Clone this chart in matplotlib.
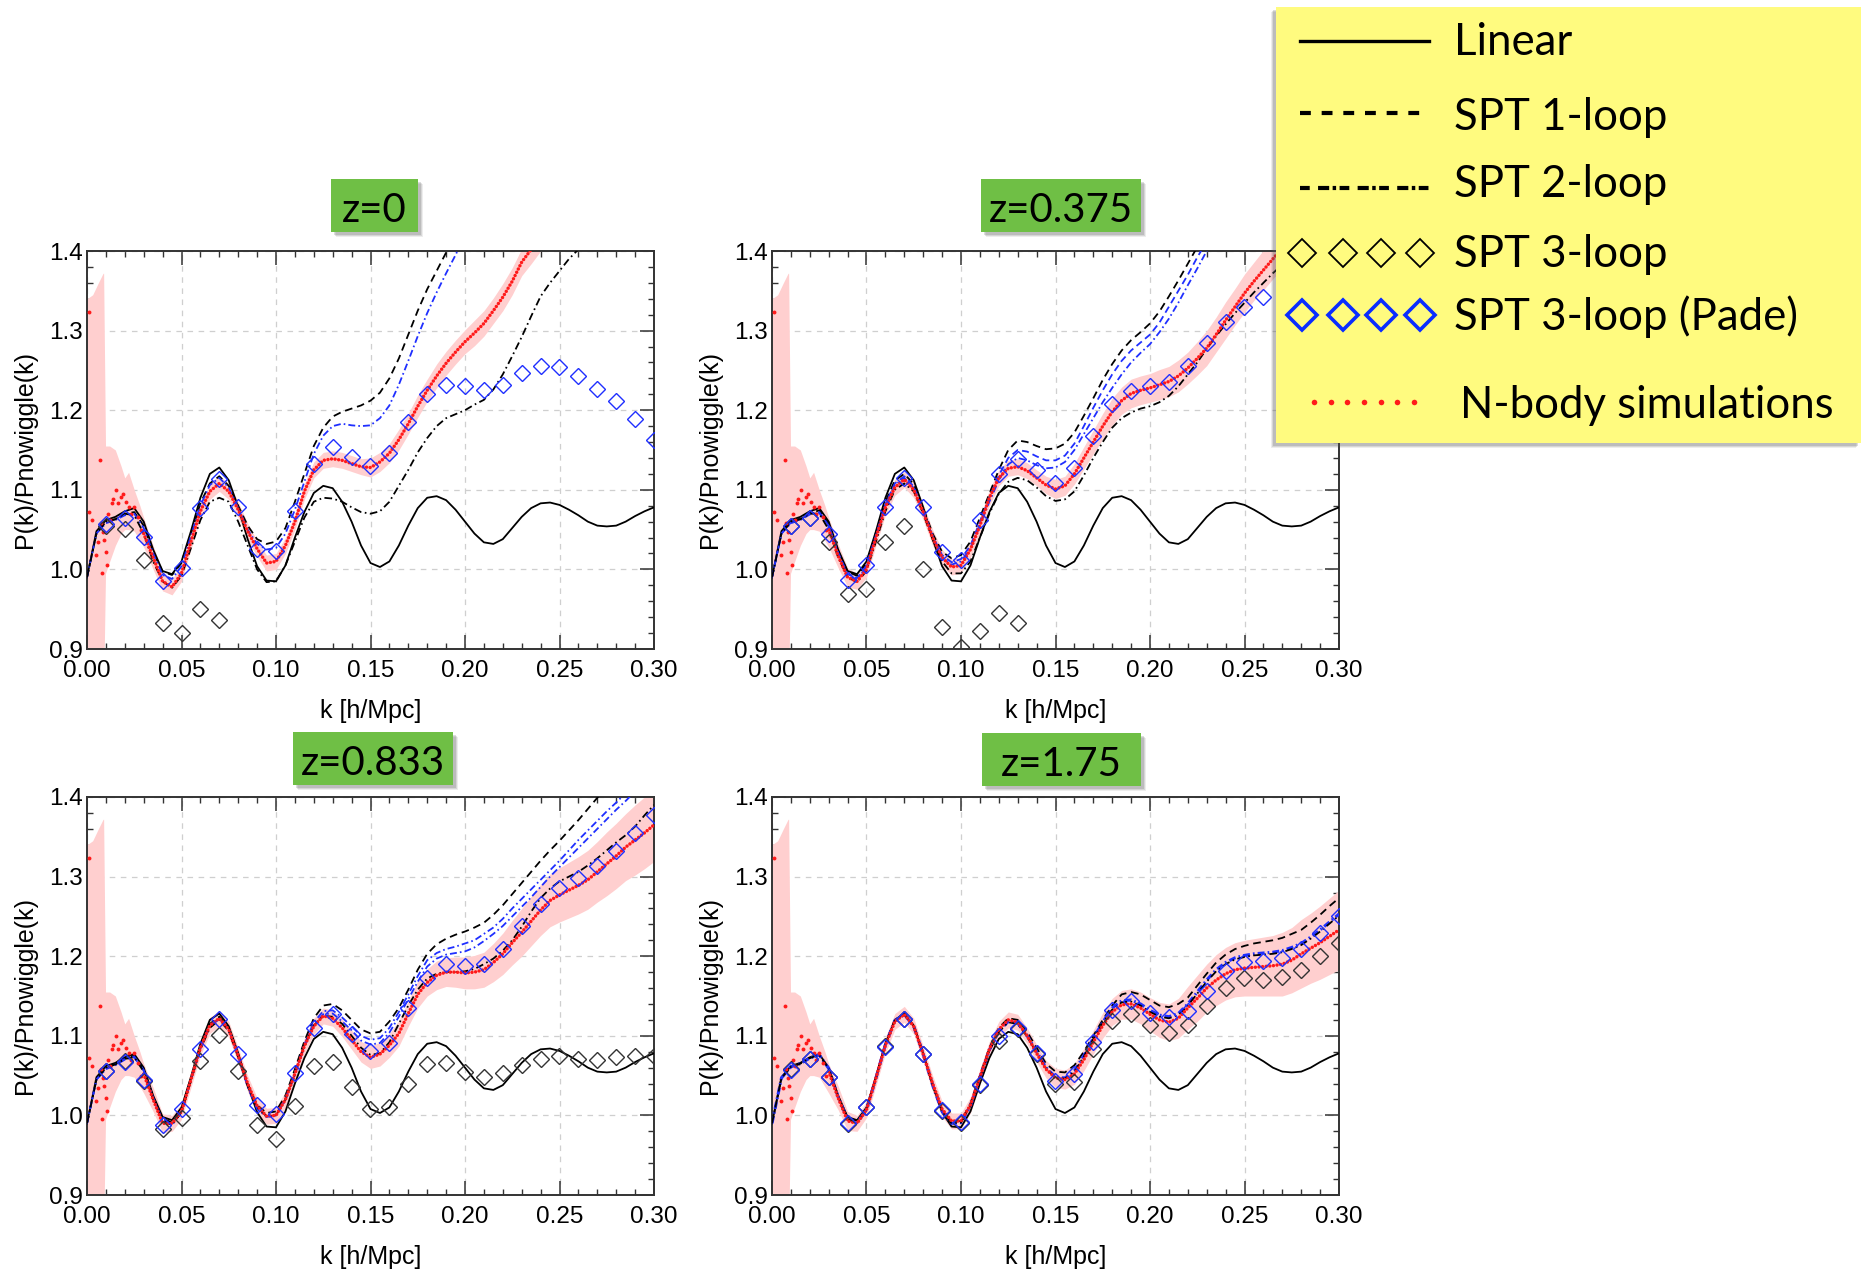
import numpy as np
import matplotlib
matplotlib.use('Agg')
import matplotlib.pyplot as plt
from matplotlib.patches import Rectangle
from matplotlib.ticker import MultipleLocator, FormatStrFormatter

plt.rcParams['font.family'] = ['Liberation Sans', 'DejaVu Sans']
plt.rcParams['lines.scale_dashes'] = False

nan = np.nan

# k grid of the curves (h/Mpc) and of the diamonds
k = np.round(np.arange(0, 0.3001, 0.005), 3)
k3 = np.round(np.arange(0.01, 0.3001, 0.01), 2)

# linear theory, same in every panel
linear = [0.990, 1.048, 1.062, 1.066, 1.073, 1.077, 1.060, 1.025, 0.998, 0.994,
          1.010, 1.048, 1.090, 1.120, 1.128, 1.112, 1.078, 1.038, 1.004, 0.986,
          0.985, 1.005, 1.040, 1.072, 1.096, 1.105, 1.102, 1.085, 1.060, 1.030,
          1.008, 1.003, 1.010, 1.030, 1.055, 1.077, 1.090, 1.092, 1.087, 1.075,
          1.060, 1.045, 1.034, 1.032, 1.038, 1.052, 1.066, 1.077, 1.083, 1.084,
          1.081, 1.075, 1.068, 1.060, 1.055, 1.054, 1.055, 1.060, 1.067, 1.073,
          1.078]

# N-body: scattered points at large scales and the error band there (same in all panels)
nb_scatter_k = [0.0011, 0.0013, 0.0028, 0.0050, 0.0060, 0.0069, 0.0076, 0.0080, 0.0085, 0.0092,
                0.0101, 0.0105, 0.0110, 0.0120, 0.0130, 0.0140, 0.0156, 0.0165, 0.0179, 0.0188,
                0.0206, 0.0220, 0.0234, 0.0250, 0.0270, 0.0287]
nb_scatter_y = [1.323, 1.072, 1.062, 1.018, 1.035, 1.137, 1.058, 0.995, 1.047, 1.037,
                1.022, 1.005, 1.070, 1.062, 1.083, 1.089, 1.100, 1.083, 1.091, 1.095,
                1.085, 1.079, 1.070, 1.079, 1.066, 1.050]
band_k = [0.000, 0.003, 0.006, 0.0085, 0.0088, 0.0098, 0.012, 0.015, 0.018, 0.020, 0.022, 0.025, 0.028, 0.030]
band_hi = [1.340, 1.345, 1.360, 1.372, 1.372, 1.155, 1.155, 1.150, 1.130, 1.115, 1.122, 1.100, 1.080, 1.065]
band_lo = [0.850, 0.850, 0.850, 0.850, 0.850, 0.995, 1.010, 1.030, 1.045, 1.050, 1.050, 1.048, 1.036, 1.028]

# ---- z = 0 ----
spt1_z0 = [0.990, 1.045, 1.060, 1.063, 1.070, 1.072, 1.055, 1.022, 0.997, 0.993,
           1.008, 1.045, 1.083, 1.108, 1.117, 1.105, 1.080, 1.055, 1.038, 1.032,
           1.035, 1.052, 1.085, 1.120, 1.155, 1.178, 1.192, 1.198, 1.202, 1.206,
           1.212, 1.222, 1.240, 1.265, 1.295, 1.325, 1.352, 1.375, 1.398, 1.420] + [nan] * 21
spt2_z0 = [0.990, 1.045, 1.060, 1.063, 1.070, 1.068, 1.045, 1.010, 0.985, 0.977,
           0.992, 1.027, 1.062, 1.085, 1.090, 1.085, 1.060, 1.030, 1.000, 0.984,
           0.985, 1.005, 1.035, 1.065, 1.085, 1.090, 1.089, 1.085, 1.078, 1.072,
           1.070, 1.073, 1.085, 1.105, 1.125, 1.147, 1.165, 1.180, 1.190, 1.195,
           1.200, 1.207, 1.213, 1.226, 1.245, 1.268, 1.292, 1.318, 1.343, 1.360,
           1.375, 1.390, 1.402, 1.415] + [nan] * 7
blue1_z0 = [0.990, 1.045, 1.058, 1.062, 1.068, 1.070, 1.052, 1.020, 0.993, 0.988,
            1.004, 1.042, 1.080, 1.106, 1.115, 1.103, 1.077, 1.050, 1.032, 1.025,
            1.027, 1.045, 1.075, 1.110, 1.145, 1.168, 1.180, 1.183, 1.181, 1.180,
            1.181, 1.190, 1.206, 1.232, 1.262, 1.293, 1.322, 1.348, 1.372, 1.395,
            1.420] + [nan] * 20
blue2_z0 = [nan] * 61
nbody_z0 = [nan] * 6 + [1.045, 1.015, 0.985, 0.978,
            0.995, 1.035, 1.073, 1.098, 1.108, 1.098, 1.075, 1.048, 1.026, 1.008,
            1.010, 1.030, 1.060, 1.098, 1.125, 1.137, 1.139, 1.137, 1.133, 1.129,
            1.128, 1.135, 1.146, 1.163, 1.183, 1.205, 1.225, 1.243, 1.259, 1.273,
            1.286, 1.297, 1.309, 1.325, 1.342, 1.362, 1.386, 1.402, 1.418] + [nan] * 12
nberr_z0 = [nan] * 6 + [0.020, 0.015, 0.012, 0.010,
            0.010, 0.010, 0.010, 0.010, 0.010, 0.010, 0.010, 0.010, 0.010, 0.010,
            0.010, 0.010, 0.010, 0.010, 0.010, 0.010, 0.010, 0.010, 0.010, 0.010,
            0.012, 0.012, 0.012, 0.013, 0.013, 0.014, 0.014, 0.015, 0.015, 0.015,
            0.015, 0.016, 0.016, 0.016, 0.017, 0.017, 0.017, 0.018, 0.018] + [nan] * 12
spt3_z0 = [1.054, 1.051, 1.012, 0.933, 0.920, 0.950, 0.937] + [nan] * 23
pade_z0 = [1.057, 1.065, 1.041, 0.985, 1.002, 1.077, 1.114, 1.079, 1.026, 1.023,
           1.073, 1.132, 1.154, 1.141, 1.130, 1.146, 1.185, 1.220, 1.232, 1.231,
           1.226, 1.232, 1.247, 1.256, 1.254, 1.243, 1.227, 1.212, 1.189, 1.162]

# ---- z = 0.375 ----
spt1_z0375 = [0.990, 1.045, 1.060, 1.064, 1.071, 1.074, 1.057, 1.023, 0.997, 0.992,
              1.008, 1.046, 1.085, 1.112, 1.120, 1.107, 1.077, 1.045, 1.022, 1.014,
              1.018, 1.035, 1.065, 1.095, 1.125, 1.150, 1.162, 1.160, 1.155, 1.151,
              1.152, 1.158, 1.172, 1.193, 1.215, 1.238, 1.258, 1.275, 1.288, 1.298,
              1.309, 1.324, 1.343, 1.363, 1.384, 1.405] + [nan] * 15
spt2_z0375 = [0.990, 1.045, 1.060, 1.063, 1.070, 1.070, 1.050, 1.015, 0.990, 0.984,
              0.998, 1.035, 1.073, 1.100, 1.108, 1.098, 1.070, 1.038, 1.010, 0.995,
              0.995, 1.010, 1.040, 1.070, 1.095, 1.110, 1.115, 1.112, 1.103, 1.092,
              1.086, 1.088, 1.098, 1.118, 1.140, 1.160, 1.178, 1.190, 1.197, 1.202,
              1.205, 1.210, 1.218, 1.230, 1.245, 1.260, 1.277, 1.293, 1.308, 1.322,
              1.335, 1.348, 1.360, 1.372, 1.383, 1.393, 1.403, 1.415, nan, nan, nan]
blue1_z0375 = [0.990, 1.045, 1.059, 1.063, 1.070, 1.072, 1.055, 1.021, 0.994, 0.989,
               1.005, 1.043, 1.082, 1.108, 1.117, 1.104, 1.074, 1.042, 1.018, 1.009,
               1.013, 1.030, 1.060, 1.090, 1.118, 1.140, 1.150, 1.148, 1.142, 1.137,
               1.137, 1.143, 1.158, 1.180, 1.203, 1.225, 1.245, 1.262, 1.275, 1.285,
               1.295, 1.310, 1.330, 1.350, 1.370, 1.392, 1.412] + [nan] * 14
blue2_z0375 = [0.990, 1.045, 1.058, 1.062, 1.069, 1.071, 1.054, 1.020, 0.992, 0.987,
               1.003, 1.041, 1.080, 1.106, 1.115, 1.102, 1.072, 1.040, 1.015, 1.006,
               1.010, 1.026, 1.055, 1.085, 1.112, 1.132, 1.140, 1.137, 1.131, 1.127,
               1.128, 1.135, 1.150, 1.170, 1.190, 1.210, 1.228, 1.245, 1.260, 1.272,
               1.283, 1.298, 1.315, 1.335, 1.357, 1.378, 1.400, 1.420] + [nan] * 13
nbody_z0375 = [nan] * 6 + [1.050, 1.017, 0.990, 0.985,
               1.000, 1.040, 1.078, 1.103, 1.113, 1.100, 1.072, 1.040, 1.015, 1.003,
               1.005, 1.025, 1.055, 1.090, 1.115, 1.127, 1.129, 1.124, 1.115, 1.106,
               1.101, 1.105, 1.120, 1.140, 1.160, 1.180, 1.198, 1.212, 1.221, 1.225,
               1.228, 1.232, 1.236, 1.243, 1.253, 1.265, 1.278, 1.295, 1.313, 1.330,
               1.347, 1.362, 1.376, 1.390, 1.404, 1.418] + [nan] * 5
nberr_z0375 = [nan] * 6 + [0.020, 0.015, 0.012, 0.010,
               0.010, 0.010, 0.010, 0.010, 0.010, 0.010, 0.010, 0.010, 0.010, 0.010,
               0.010, 0.010, 0.010, 0.010, 0.010, 0.010, 0.010, 0.010, 0.010, 0.011,
               0.012, 0.012, 0.013, 0.014, 0.015, 0.016, 0.017, 0.017, 0.018, 0.018,
               0.018, 0.019, 0.019, 0.020, 0.020, 0.021, 0.022, 0.022, 0.023, 0.023,
               0.024, 0.024, 0.025, 0.025, 0.026, 0.026] + [nan] * 5
spt3_z0375 = [1.054, 1.065, 1.035, 0.969, 0.976, 1.035, 1.055, 1.000, 0.928, 0.903,
              0.922, 0.945, 0.933] + [nan] * 17
pade_z0375 = [1.054, 1.065, 1.045, 0.987, 1.005, 1.079, 1.115, 1.079, 1.022, 1.012,
              1.062, 1.120, 1.139, 1.125, 1.109, 1.127, 1.168, 1.208, 1.224, 1.230,
              1.236, 1.256, 1.284, 1.311, 1.330, 1.342] + [nan] * 4

# ---- z = 0.833 ----
spt1_z0833 = [0.990, 1.045, 1.060, 1.065, 1.072, 1.075, 1.058, 1.023, 0.996, 0.991,
              1.007, 1.046, 1.086, 1.115, 1.124, 1.110, 1.077, 1.040, 1.013, 1.003,
              1.005, 1.025, 1.058, 1.093, 1.122, 1.138, 1.140, 1.132, 1.120, 1.108,
              1.103, 1.105, 1.118, 1.135, 1.158, 1.183, 1.203, 1.215, 1.222, 1.227,
              1.231, 1.236, 1.242, 1.252, 1.264, 1.278, 1.292, 1.306, 1.320, 1.333,
              1.345, 1.358, 1.371, 1.385, 1.399, 1.413] + [nan] * 5
spt2_z0833 = [0.990, 1.045, 1.060, 1.064, 1.071, 1.073, 1.055, 1.020, 0.993, 0.988,
              1.004, 1.043, 1.083, 1.110, 1.120, 1.106, 1.073, 1.037, 1.010, 0.999,
              1.000, 1.020, 1.053, 1.088, 1.113, 1.125, 1.124, 1.115, 1.100, 1.085,
              1.076, 1.078, 1.092, 1.115, 1.138, 1.158, 1.172, 1.178, 1.180, 1.180,
              1.181, 1.184, 1.190, 1.197, 1.207, 1.220, 1.237, 1.256, 1.273, 1.285,
              1.294, 1.300, 1.306, 1.314, 1.323, 1.333, 1.343, 1.352, 1.363, 1.377,
              1.390]
blue1_z0833 = [0.990, 1.045, 1.059, 1.064, 1.071, 1.074, 1.057, 1.022, 0.994, 0.989,
               1.005, 1.045, 1.085, 1.113, 1.122, 1.108, 1.075, 1.037, 1.010, 0.999,
               1.001, 1.021, 1.054, 1.089, 1.117, 1.131, 1.132, 1.123, 1.112, 1.100,
               1.095, 1.097, 1.110, 1.130, 1.152, 1.175, 1.195, 1.204, 1.209, 1.212,
               1.216, 1.220, 1.228, 1.236, 1.247, 1.260, 1.272, 1.284, 1.296, 1.308,
               1.320, 1.333, 1.346, 1.358, 1.370, 1.382, 1.393, 1.405, nan, nan, nan]
blue2_z0833 = [0.990, 1.045, 1.058, 1.063, 1.070, 1.073, 1.056, 1.021, 0.993, 0.988,
               1.004, 1.044, 1.084, 1.112, 1.121, 1.107, 1.074, 1.036, 1.008, 0.998,
               1.000, 1.019, 1.051, 1.086, 1.113, 1.127, 1.128, 1.118, 1.107, 1.094,
               1.089, 1.091, 1.104, 1.124, 1.146, 1.168, 1.187, 1.197, 1.202, 1.204,
               1.206, 1.211, 1.219, 1.228, 1.238, 1.250, 1.262, 1.274, 1.287, 1.300,
               1.312, 1.324, 1.336, 1.348, 1.360, 1.372, 1.384, 1.395, 1.407, nan, nan]
nbody_z0833 = [nan] * 6 + [1.052, 1.020, 0.990, 0.990,
               1.005, 1.045, 1.085, 1.113, 1.122, 1.108, 1.075, 1.040, 1.012, 0.999,
               1.000, 1.020, 1.052, 1.087, 1.112, 1.125, 1.122, 1.110, 1.095, 1.080,
               1.073, 1.077, 1.088, 1.103, 1.128, 1.152, 1.167, 1.176, 1.180, 1.180,
               1.179, 1.180, 1.183, 1.192, 1.203, 1.217, 1.230, 1.244, 1.258, 1.270,
               1.277, 1.283, 1.289, 1.296, 1.306, 1.316, 1.326, 1.337, 1.346, 1.355,
               1.365]
nberr_z0833 = [nan] * 6 + [0.020, 0.015, 0.012, 0.010,
               0.010, 0.010, 0.010, 0.010, 0.010, 0.010, 0.010, 0.010, 0.010, 0.010,
               0.010, 0.010, 0.010, 0.010, 0.010, 0.010, 0.010, 0.011, 0.012, 0.013,
               0.014, 0.015, 0.015, 0.016, 0.016, 0.017, 0.017, 0.018, 0.018, 0.019,
               0.020, 0.021, 0.022, 0.024, 0.026, 0.028, 0.030, 0.031, 0.032, 0.033,
               0.034, 0.035, 0.036, 0.037, 0.038, 0.040, 0.041, 0.042, 0.044, 0.045,
               0.046]
spt3_z0833 = [1.056, 1.068, 1.043, 0.983, 0.997, 1.068, 1.101, 1.056, 0.988, 0.970,
              1.012, 1.062, 1.067, 1.036, 1.008, 1.010, 1.039, 1.064, 1.066, 1.055,
              1.048, 1.053, 1.063, 1.071, 1.074, 1.071, 1.070, 1.073, 1.075, 1.074]
pade_z0833 = [1.056, 1.067, 1.045, 0.988, 1.008, 1.084, 1.121, 1.077, 1.013, 1.002,
              1.053, 1.110, 1.127, 1.102, 1.081, 1.091, 1.135, 1.173, 1.190, 1.188,
              1.190, 1.209, 1.238, 1.265, 1.286, 1.298, 1.313, 1.332, 1.355, 1.378]

# ---- z = 1.75 ----
spt1_z175 = [0.990, 1.047, 1.061, 1.065, 1.072, 1.076, 1.059, 1.024, 0.997, 0.993,
             1.009, 1.048, 1.090, 1.120, 1.128, 1.113, 1.079, 1.040, 1.008, 0.992,
             0.993, 1.015, 1.050, 1.085, 1.110, 1.122, 1.120, 1.105, 1.085, 1.065,
             1.055, 1.054, 1.063, 1.080, 1.100, 1.120, 1.138, 1.152, 1.155, 1.152,
             1.145, 1.138, 1.136, 1.140, 1.148, 1.163, 1.178, 1.192, 1.202, 1.209,
             1.213, 1.216, 1.218, 1.220, 1.223, 1.228, 1.233, 1.242, 1.252, 1.263,
             1.273]
spt2_z175 = [0.990, 1.047, 1.061, 1.065, 1.072, 1.076, 1.059, 1.023, 0.995, 0.991,
             1.007, 1.047, 1.089, 1.119, 1.127, 1.112, 1.077, 1.038, 1.005, 0.990,
             0.991, 1.012, 1.047, 1.081, 1.105, 1.117, 1.115, 1.099, 1.079, 1.059,
             1.047, 1.046, 1.055, 1.074, 1.096, 1.116, 1.133, 1.142, 1.143, 1.138,
             1.130, 1.124, 1.122, 1.126, 1.138, 1.153, 1.168, 1.181, 1.190, 1.196,
             1.199, 1.201, 1.202, 1.203, 1.205, 1.209, 1.214, 1.222, 1.231, 1.241,
             1.251]
blue1_z175 = [0.990, 1.047, 1.061, 1.065, 1.072, 1.076, 1.059, 1.023, 0.995, 0.991,
              1.007, 1.047, 1.089, 1.119, 1.127, 1.112, 1.077, 1.038, 1.005, 0.990,
              0.991, 1.012, 1.047, 1.082, 1.106, 1.118, 1.116, 1.100, 1.080, 1.060,
              1.048, 1.047, 1.056, 1.075, 1.097, 1.117, 1.135, 1.144, 1.145, 1.140,
              1.132, 1.126, 1.124, 1.128, 1.140, 1.155, 1.170, 1.183, 1.192, 1.198,
              1.201, 1.203, 1.204, 1.205, 1.207, 1.211, 1.216, 1.224, 1.233, 1.243,
              1.253]
blue2_z175 = [nan] * 61
nbody_z175 = [nan] * 6 + [1.055, 1.022, 0.993, 0.990,
              1.007, 1.047, 1.088, 1.118, 1.127, 1.112, 1.077, 1.040, 1.008, 0.993,
              0.993, 1.013, 1.048, 1.083, 1.108, 1.120, 1.117, 1.100, 1.078, 1.058,
              1.047, 1.045, 1.052, 1.070, 1.092, 1.113, 1.130, 1.139, 1.140, 1.135,
              1.127, 1.120, 1.117, 1.122, 1.135, 1.147, 1.160, 1.170, 1.178, 1.183,
              1.185, 1.186, 1.187, 1.188, 1.190, 1.195, 1.203, 1.210, 1.217, 1.225,
              1.233]
nberr_z175 = [nan] * 6 + [0.020, 0.015, 0.012, 0.010,
              0.010, 0.010, 0.010, 0.010, 0.010, 0.010, 0.010, 0.010, 0.010, 0.010,
              0.010, 0.010, 0.010, 0.010, 0.010, 0.010, 0.010, 0.010, 0.011, 0.011,
              0.012, 0.012, 0.013, 0.014, 0.015, 0.016, 0.017, 0.018, 0.019, 0.020,
              0.021, 0.022, 0.023, 0.025, 0.027, 0.029, 0.030, 0.032, 0.033, 0.034,
              0.035, 0.036, 0.037, 0.038, 0.040, 0.041, 0.043, 0.044, 0.046, 0.048,
              0.050]
spt3_z175 = [1.058, 1.071, 1.048, 0.989, 1.010, 1.087, 1.121, 1.077, 1.006, 0.990,
             1.038, 1.094, 1.109, 1.077, 1.039, 1.042, 1.083, 1.119, 1.127, 1.114,
             1.103, 1.113, 1.137, 1.160, 1.172, 1.170, 1.174, 1.183, 1.200, 1.217]
pade_z175 = [1.057, 1.071, 1.048, 0.990, 1.010, 1.086, 1.121, 1.077, 1.007, 0.992,
             1.040, 1.100, 1.110, 1.079, 1.043, 1.052, 1.092, 1.133, 1.144, 1.129,
             1.123, 1.131, 1.156, 1.181, 1.193, 1.194, 1.198, 1.209, 1.229, 1.250]

titles = ['z=0', 'z=0.375', 'z=0.833', 'z=1.75']

W, H = 1865, 1279
fig = plt.figure(figsize=(W / 100, H / 100), dpi=100)


def fx(x):
    return x / W


def fy(y):
    return 1 - y / H


BLACK_DASH = (0, (5.5, 3.5))
BLACK_DASHDOT = (0, (5.5, 2.5, 1.2, 2.5))
BLUE_DASH = (0, (5, 3))
BLUE_DASHDOT = (0, (5, 2.2, 1.2, 2.2))
BLUE = '#1f2fff'
RED = '#ff1a1a'

panels = [
    (87, 251, spt1_z0, spt2_z0, blue1_z0, blue2_z0, nbody_z0, nberr_z0, spt3_z0, pade_z0, BLUE_DASHDOT, 1.3),
    (772, 251, spt1_z0375, spt2_z0375, blue1_z0375, blue2_z0375, nbody_z0375, nberr_z0375, spt3_z0375, pade_z0375, BLUE_DASH, 1.3),
    (87, 797, spt1_z0833, spt2_z0833, blue1_z0833, blue2_z0833, nbody_z0833, nberr_z0833, spt3_z0833, pade_z0833, BLUE_DASHDOT, 1.3),
    (772, 797, spt1_z175, spt2_z175, blue1_z175, blue2_z175, nbody_z175, nberr_z175, spt3_z175, pade_z175, BLUE_DASHDOT, 2.2),
]

for (x0, y0, spt1, spt2, blue1, blue2, nbody, nberr, spt3, pade, b1style, b1lw) in panels:
    ax = fig.add_axes([fx(x0), fy(y0 + 398), 567 / W, 398 / H])
    nb = np.array(nbody)
    err = np.array(nberr)

    # error band of the simulations
    kb = np.concatenate([band_k, k[7:]])
    lo = np.concatenate([band_lo, (nb - err)[7:]])
    hi = np.concatenate([band_hi, (nb + err)[7:]])
    ax.fill_between(kb, lo, hi, color='#ffcfcf', lw=0, zorder=1)

    ax.plot(k, linear, color='black', lw=1.3, zorder=3)
    ax.plot(k, spt1, color='black', lw=1.3, ls=BLACK_DASH, zorder=3)
    ax.plot(k, blue1, color=BLUE, lw=b1lw, ls=b1style, zorder=3)
    ax.plot(k, blue2, color=BLUE, lw=1.3, ls=BLUE_DASHDOT, zorder=3)
    ax.plot(k, spt2, color='black', lw=1.3, ls=BLACK_DASHDOT, zorder=3)

    ax.plot(k, nb, color=RED, lw=2.5, ls=(0, (0.01, 2.6)), dash_capstyle='round', zorder=4)
    ax.plot(nb_scatter_k, nb_scatter_y, ls='none', marker='o', ms=2.8, color=RED, mew=0, zorder=4)

    ax.plot(k3, spt3, ls='none', marker='D', ms=8, mfc='none', mec='#333333', mew=1.0, zorder=5)
    ax.plot(k3, pade, ls='none', marker='D', ms=8, mfc='none', mec=BLUE, mew=1.0, zorder=5)

    ax.set_xlim(0, 0.30)
    ax.set_ylim(0.9, 1.4)
    ax.xaxis.set_major_locator(MultipleLocator(0.05))
    ax.xaxis.set_minor_locator(MultipleLocator(0.01))
    ax.yaxis.set_major_locator(MultipleLocator(0.1))
    ax.yaxis.set_minor_locator(MultipleLocator(0.02))
    ax.xaxis.set_major_formatter(FormatStrFormatter('%.2f'))
    ax.yaxis.set_major_formatter(FormatStrFormatter('%.1f'))
    ax.tick_params(which='both', direction='in', top=True, right=True, color='#333333')
    ax.tick_params(which='major', length=10, width=1.1, labelsize=17.5)
    ax.tick_params(which='minor', length=4.3, width=1.0)
    ax.tick_params(axis='x', which='major', pad=8)
    ax.tick_params(axis='y', which='major', pad=3)
    for s in ax.spines.values():
        s.set_color('#333333')
        s.set_linewidth(1.4)
    ax.grid(True, which='major', color='#cfcfcf', ls=(0, (4, 4)), lw=0.9)
    ax.set_axisbelow(True)
    ax.set_xlabel('k [h/Mpc]', fontsize=18)
    ax.set_ylabel('P(k)/Pnowiggle(k)', fontsize=18)
    ax.xaxis.set_label_coords(0.5, -0.126)
    ax.yaxis.set_label_coords(-0.088, 0.5)

# green title boxes
boxes = [(331, 179, 87), (981, 179, 160), (293, 732, 160), (982, 733, 159)]
for (bx, by, bw), title in zip(boxes, titles):
    for off, a in [(5, 0.10), (4, 0.15), (3, 0.2)]:
        fig.patches.append(Rectangle((fx(bx + off), fy(by + 53 + off)), bw / W, 53 / H,
                                     transform=fig.transFigure, color='#555555', alpha=a, lw=0))
    fig.patches.append(Rectangle((fx(bx), fy(by + 53)), bw / W, 53 / H,
                                 transform=fig.transFigure, color='#6fbf45', lw=0))
    fig.text(fx(bx + bw / 2), fy(by + 43), title, fontsize=29, family=['Lato', 'DejaVu Sans'],
             ha='center', va='baseline')

# legend panel
for off, a in [(5, 0.10), (4, 0.15), (3, 0.2)]:
    fig.patches.append(Rectangle((fx(1276 - off), fy(443 + off)), (1861 - 1276) / W, 436 / H,
                                 transform=fig.transFigure, color='#555555', alpha=a, lw=0))
lg = fig.add_axes([fx(1276), fy(443), (1861 - 1276) / W, 436 / H], zorder=10)
lg.set_xlim(1276, 1861)
lg.set_ylim(443, 7)
lg.set_facecolor('#fffb7f')
lg.set_xticks([])
lg.set_yticks([])
for s in lg.spines.values():
    s.set_visible(False)

lg.plot([1300, 1429], [41, 41], color='black', lw=2.4)
lg.plot([1300, 1429], [113, 113], color='black', lw=3, ls=(0, (7.8, 7.8)))
lg.plot([1300, 1429], [188, 188], color='black', lw=3, ls=(0, (7, 6, 8, 2.5, 2.5, 2.5)))
lg.plot([1302, 1343, 1381, 1420], [253] * 4, ls='none', marker='D', ms=14, mfc='none',
        mec='black', mew=1.3)
lg.plot([1302, 1343, 1381, 1420], [315] * 4, ls='none', marker='D', ms=15, mfc='none',
        mec='#0a2cff', mew=2.6)
lg.plot([1314, 1331, 1347, 1364, 1381, 1397, 1414], [402] * 7, ls='none', marker='o', ms=4,
        color=RED, mew=0)

legend_font = ['Lato', 'DejaVu Sans']
lsize = 31.5
lg.text(1454, 55, 'Linear', fontsize=lsize, family=legend_font, va='baseline')
lg.text(1454, 130, 'SPT 1-loop', fontsize=lsize, family=legend_font, va='baseline')
lg.text(1454, 197, 'SPT 2-loop', fontsize=lsize, family=legend_font, va='baseline')
lg.text(1454, 267, 'SPT 3-loop', fontsize=lsize, family=legend_font, va='baseline')
lg.text(1454, 330, 'SPT 3-loop (Pade)', fontsize=lsize, family=legend_font, va='baseline')
lg.text(1460, 418, 'N-body simulations', fontsize=lsize, family=legend_font, va='baseline')

fig.savefig('out.png', dpi=100, facecolor='white')
